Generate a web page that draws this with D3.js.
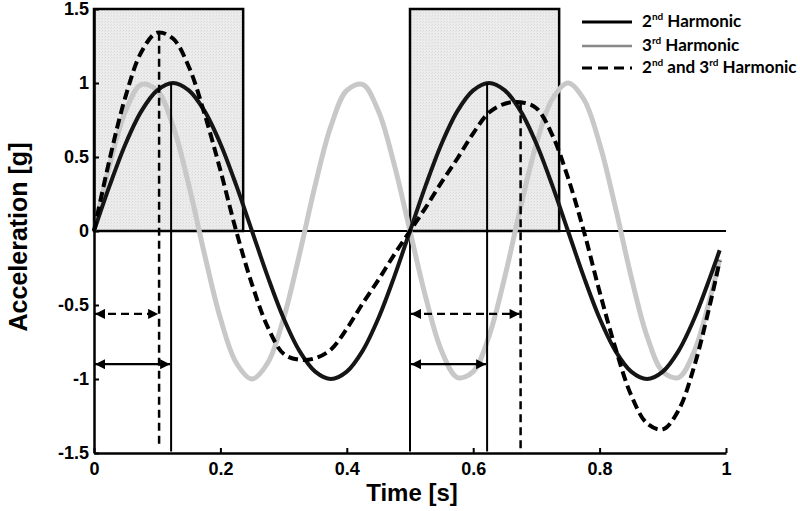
<!DOCTYPE html>
<html>
<head>
<meta charset="utf-8">
<script src="https://cdn.jsdelivr.net/npm/d3@7"></script>
<style>
  html, body { margin: 0; padding: 0; background: #ffffff; }
  svg { display: block; }
</style>
</head>
<body>
<svg id="chart" width="800" height="511"></svg>
<script>
// ---- data ----
const timeValues = [0, 0.025, 0.05, 0.075, 0.1, 0.125, 0.15, 0.175, 0.2, 0.225,
  0.25, 0.275, 0.3, 0.325, 0.35, 0.375, 0.4, 0.425, 0.45, 0.475,
  0.5, 0.525, 0.55, 0.575, 0.6, 0.625, 0.65, 0.675, 0.7, 0.725,
  0.75, 0.775, 0.8, 0.825, 0.85, 0.875, 0.9, 0.925, 0.95, 0.975, 0.99];
const secondHarmonic = [0, 0.31, 0.59, 0.81, 0.95, 1.0, 0.95, 0.81, 0.59, 0.31,
  0, -0.31, -0.59, -0.81, -0.95, -1.0, -0.95, -0.81, -0.59, -0.31,
  0, 0.31, 0.59, 0.81, 0.95, 1.0, 0.95, 0.81, 0.59, 0.31,
  0, -0.31, -0.59, -0.81, -0.95, -1.0, -0.95, -0.81, -0.59, -0.31, -0.13];
const thirdHarmonic = [0, 0.45, 0.81, 0.99, 0.95, 0.71, 0.31, -0.16, -0.59, -0.89,
  -1.0, -0.89, -0.59, -0.16, 0.31, 0.71, 0.95, 0.99, 0.81, 0.45,
  0, -0.45, -0.81, -0.99, -0.95, -0.71, -0.31, 0.16, 0.59, 0.89,
  1.0, 0.89, 0.59, 0.16, -0.31, -0.71, -0.95, -0.99, -0.81, -0.45, -0.19];
const combinedHarmonic = [0, 0.49, 0.91, 1.21, 1.34, 1.30, 1.11, 0.79, 0.41, 0.0,
  -0.36, -0.65, -0.83, -0.87, -0.86, -0.80, -0.66, -0.49, -0.33, -0.16,
  0, 0.16, 0.33, 0.49, 0.66, 0.80, 0.86, 0.87, 0.83, 0.65,
  0.36, 0.0, -0.41, -0.79, -1.11, -1.30, -1.34, -1.21, -0.91, -0.49, -0.20];

const xTickValues = [0, 0.2, 0.4, 0.6, 0.8, 1];
const yTickValues = [-1.5, -1, -0.5, 0, 0.5, 1, 1.5];

// shaded windows [start, end] in seconds, from 0 g up to 1.5 g
const windowStarts = [0, 0.5];
const windowEnds = [0.236, 0.736];

// peak markers: time of peak, peak value, style, arrow level, arrow start
const markerTimes = [0.122, 0.103, 0.622, 0.675];
const markerPeaks = [1.0, 1.34, 1.0, 0.87];
const markerDashed = [false, true, false, true];
const markerArrowLevels = [-0.9, -0.56, -0.9, -0.56];
const markerArrowStarts = [0, 0, 0.5, 0.5];

const legendNames = [["2", "nd", " Harmonic"], ["3", "rd", " Harmonic"], ["2", "nd", " and 3", "rd", " Harmonic"]];

// ---- layout ----
const svg = d3.select("#chart");
const x = d3.scaleLinear().domain([0, 1]).range([94, 726]);
const y = d3.scaleLinear().domain([-1.5, 1.5]).range([453, 9]);

const defs = svg.append("defs");
const pat = defs.append("pattern").attr("id", "grain").attr("patternUnits", "userSpaceOnUse")
  .attr("width", 3).attr("height", 3);
pat.append("rect").attr("width", 3).attr("height", 3).attr("fill", "#ececec");
pat.append("rect").attr("width", 1).attr("height", 1).attr("fill", "#dadada");
pat.append("rect").attr("x", 2).attr("y", 1).attr("width", 1).attr("height", 1).attr("fill", "#e0e0e0");

defs.append("marker").attr("id", "arrow").attr("viewBox", "0 0 10 10")
  .attr("refX", 10).attr("refY", 5).attr("markerUnits", "userSpaceOnUse")
  .attr("markerWidth", 11).attr("markerHeight", 10).attr("orient", "auto-start-reverse")
  .append("path").attr("d", "M0,0 L10,5 L0,10 Z").attr("fill", "#000");

// shaded windows
svg.append("g").selectAll("rect").data(windowStarts).join("rect")
  .attr("x", (d) => x(d))
  .attr("y", y(1.5))
  .attr("width", (d, i) => x(windowEnds[i]) - x(d))
  .attr("height", y(0) - y(1.5))
  .attr("fill", "url(#grain)")
  .attr("stroke", "#000")
  .attr("stroke-width", 2.5);

// zero line
svg.append("line").attr("x1", x(0)).attr("x2", x(1)).attr("y1", y(0)).attr("y2", y(0))
  .attr("stroke", "#000").attr("stroke-width", 1.8);

// vertical line at 0.5 below zero
svg.append("line").attr("x1", x(0.5)).attr("x2", x(0.5)).attr("y1", y(0)).attr("y2", y(-1.49))
  .attr("stroke", "#000").attr("stroke-width", 2);

const pts = (arr) => timeValues.map((t, i) => [t, arr[i]]);
const line = d3.line().x((d) => x(d[0])).y((d) => y(d[1])).curve(d3.curveCatmullRom.alpha(0.5));

// curves
svg.append("path").attr("d", line(pts(thirdHarmonic))).attr("fill", "none")
  .attr("stroke", "#c8c8c8").attr("stroke-width", 5);
svg.append("path").attr("d", line(pts(secondHarmonic))).attr("fill", "none")
  .attr("stroke", "#151515").attr("stroke-width", 4);
svg.append("path").attr("d", line(pts(combinedHarmonic))).attr("fill", "none")
  .attr("stroke", "#000").attr("stroke-width", 4).attr("stroke-dasharray", "10,5");

// peak marker verticals
svg.append("g").selectAll("line").data(markerTimes).join("line")
  .attr("x1", (d) => x(d)).attr("x2", (d) => x(d))
  .attr("y1", (d, i) => y(markerPeaks[i]))
  .attr("y2", (d, i) => markerDashed[i] ? y(-1.47) : y(-1.49))
  .attr("stroke", "#000")
  .attr("stroke-width", (d, i) => markerDashed[i] ? 2.5 : 2)
  .attr("stroke-dasharray", (d, i) => markerDashed[i] ? "8,5" : null);

// double arrows
svg.append("g").selectAll("line").data(markerTimes).join("line")
  .attr("x1", (d, i) => x(markerArrowStarts[i]) + 1)
  .attr("x2", (d) => x(d) - 1)
  .attr("y1", (d, i) => y(markerArrowLevels[i]))
  .attr("y2", (d, i) => y(markerArrowLevels[i]))
  .attr("stroke", "#000")
  .attr("stroke-width", 2.2)
  .attr("stroke-dasharray", (d, i) => markerDashed[i] ? "8,5" : null)
  .attr("marker-start", "url(#arrow)")
  .attr("marker-end", "url(#arrow)");

// axes
const fontAxis = "'Liberation Sans', Arial, sans-serif";
const yAxis = svg.append("g").attr("transform", `translate(${x(0)},0)`)
  .call(d3.axisLeft(y).tickValues(yTickValues).tickFormat((d) => String(d))
    .tickSizeInner(-5).tickSizeOuter(0).tickPadding(5));
const xAxis = svg.append("g").attr("transform", `translate(0,${y(-1.5)})`)
  .call(d3.axisBottom(x).tickValues(xTickValues).tickFormat((d) => String(d))
    .tickSizeInner(-5).tickSizeOuter(0).tickPadding(9));
[yAxis, xAxis].forEach((g) => {
  g.select(".domain").attr("stroke", "#000").attr("stroke-width", 2.5);
  g.selectAll(".tick line").attr("stroke", "#000").attr("stroke-width", 2);
  g.selectAll(".tick text").attr("fill", "#000")
    .style("font-family", fontAxis).style("font-weight", "bold").style("font-size", "18px");
});

// axis titles
svg.append("text").attr("x", 412).attr("y", 501).attr("text-anchor", "middle")
  .style("font-family", fontAxis).style("font-weight", "bold").style("font-size", "24px")
  .text("Time [s]");
svg.append("text").attr("transform", "translate(27,237) rotate(-90)").attr("text-anchor", "middle")
  .style("font-family", fontAxis).style("font-weight", "bold").style("font-size", "25px")
  .text("Acceleration [g]");

// legend
const legendY = [22, 46, 68];
const legend = svg.append("g");
legend.selectAll("line").data(legendNames).join("line")
  .attr("x1", 582).attr("x2", 632)
  .attr("y1", (d, i) => legendY[i]).attr("y2", (d, i) => legendY[i])
  .attr("stroke", (d, i) => i === 1 ? "#888" : "#000")
  .attr("stroke-width", (d, i) => i === 1 ? 2.5 : 3)
  .attr("stroke-dasharray", (d, i) => i === 2 ? "10,6" : null);
legend.selectAll("text").data(legendNames).join("text")
  .attr("x", 642).attr("y", (d, i) => legendY[i] + 5)
  .style("font-family", "Lato, 'Open Sans', sans-serif").style("font-weight", "bold").style("font-size", "17px")
  .each(function (parts) {
    const t = d3.select(this);
    parts.forEach((p, k) => {
      const sup = (p === "nd" || p === "rd");
      t.append("tspan").text(p)
        .attr("dy", sup ? -7 : (k > 0 ? 7 : 0))
        .style("font-size", sup ? "10px" : "17px");
    });
  });
</script>
</body>
</html>
